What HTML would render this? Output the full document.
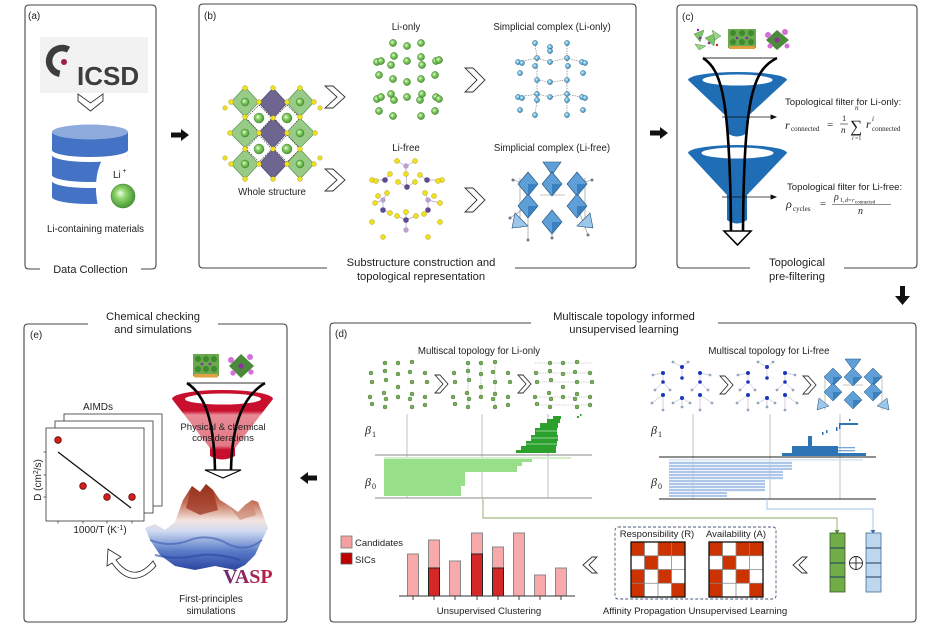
<!DOCTYPE html>
<html><head><meta charset="utf-8">
<style>
html,body{margin:0;padding:0;background:#fff;}
svg{display:block;}
text{font-family:"Liberation Sans",Arial,sans-serif;fill:#222;}
.s{font-family:"Liberation Serif","Times New Roman",serif;font-style:italic;}
.r{font-family:"Liberation Serif","Times New Roman",serif;}
</style></head><body>
<svg width="940" height="628" viewBox="0 0 940 628" xmlns="http://www.w3.org/2000/svg">
<defs>
 <radialGradient id="gb" cx="0.45" cy="0.45" r="0.6" fx="0.38" fy="0.38">
  <stop offset="0" stop-color="#f0fff0"/><stop offset="0.35" stop-color="#92d66e"/><stop offset="1" stop-color="#3c8f2c"/>
 </radialGradient>
 <radialGradient id="bb" cx="0.45" cy="0.45" r="0.6" fx="0.38" fy="0.38">
  <stop offset="0" stop-color="#e6f6ff"/><stop offset="0.45" stop-color="#7cc3e8"/><stop offset="1" stop-color="#2f7aa8"/>
 </radialGradient>
 <linearGradient id="rf" x1="0" y1="0" x2="0" y2="1">
  <stop offset="0" stop-color="#c8102e"/><stop offset="0.3" stop-color="#c8102e"/>
  <stop offset="0.36" stop-color="#e88a95"/><stop offset="0.8" stop-color="#e47a86"/>
  <stop offset="0.86" stop-color="#c8102e"/><stop offset="1" stop-color="#c8102e"/>
 </linearGradient>
 <linearGradient id="surf" x1="0" y1="0" x2="0" y2="1">
  <stop offset="0" stop-color="#8b2a1a"/><stop offset="0.22" stop-color="#c8725a"/>
  <stop offset="0.42" stop-color="#f3e4de"/><stop offset="0.55" stop-color="#cfdaf0"/>
  <stop offset="0.78" stop-color="#5a7cc8"/><stop offset="1" stop-color="#2a45a0"/>
 </linearGradient>
 <linearGradient id="vasp" x1="0" y1="0" x2="1" y2="0">
  <stop offset="0" stop-color="#6a2a70"/><stop offset="1" stop-color="#c02040"/>
 </linearGradient>
 <pattern id="stripe" patternUnits="userSpaceOnUse" width="10" height="3">
  <rect x="0" y="0" width="10" height="2.2" fill="#aec7e8"/>
 </pattern>
</defs>

<!-- ============ PANEL BOXES ============ -->
<g fill="none" stroke="#444" stroke-width="1.1">
 <path d="M40,269 L29,269 Q25,269 25,265 L25,9 Q25,5 29,5 L152,5 Q156,5 156,9 L156,265 Q156,269 152,269 L141,269"/>
 <path d="M327,268 L203,268 Q199,268 199,264 L199,8 Q199,4 203,4 L632,4 Q636,4 636,8 L636,264 Q636,268 632,268 L515,268"/>
 <path d="M750,268 L681,268 Q677,268 677,264 L677,9 Q677,5 681,5 L913,5 Q917,5 917,9 L917,264 Q917,268 913,268 L844,268"/>
 <path d="M88,324 L28,324 Q24,324 24,328 L24,618 Q24,622 28,622 L283,622 Q287,622 287,618 L287,328 Q287,324 283,324 L218,324"/>
 <path d="M531,323 L334,323 Q330,323 330,327 L330,618 Q330,622 334,622 L912,622 Q916,622 916,618 L916,327 Q916,323 912,323 L718,323"/>
</g>

<!-- titles -->
<text x="28" y="19" font-size="10">(a)</text>
<text x="204" y="19" font-size="10">(b)</text>
<text x="682" y="20" font-size="10">(c)</text>
<text x="30" y="338" font-size="10">(e)</text>
<text x="335" y="337" font-size="10">(d)</text>

<text x="90.5" y="273" font-size="11" text-anchor="middle">Data Collection</text>
<text x="421" y="266" font-size="11.2" text-anchor="middle">Substructure construction and</text>
<text x="421" y="280" font-size="11.2" text-anchor="middle">topological representation</text>
<text x="797" y="266" font-size="11.2" text-anchor="middle">Topological</text>
<text x="797" y="280" font-size="11.2" text-anchor="middle">pre-filtering</text>
<text x="153" y="320" font-size="11.2" text-anchor="middle">Chemical checking</text>
<text x="153" y="333" font-size="11.2" text-anchor="middle">and simulations</text>
<text x="624" y="320" font-size="11.2" text-anchor="middle">Multiscale topology informed</text>
<text x="624" y="333" font-size="11.2" text-anchor="middle">unsupervised learning</text>

<!-- block arrows -->
<g fill="#111">
 <polygon points="171,132.5 181,132.5 181,129 189,135 181,141 181,137.5 171,137.5"/>
 <polygon points="650,130.5 660,130.5 660,127 668,133 660,139 660,135.5 650,135.5"/>
 <polygon points="900,286 905,286 905,296 910,296 902.5,305 895,296 900,296"/>
 <polygon points="317,475.5 308,475.5 308,472 300,478 308,484 308,480.5 317,480.5"/>
</g>

<!-- ============ PANEL A ============ -->
<rect x="40" y="37" width="108" height="56" fill="#f2f2f2"/>
<path d="M68.5,49.7 A13,13 0 1 0 59.7,73.8" fill="none" stroke="#3d3d3d" stroke-width="6.5"/>
<circle cx="64" cy="62" r="3" fill="#9b1b4a"/>
<text x="77" y="85" font-size="26" font-weight="bold" style="fill:#3d3d3d">ICSD</text>
<path d="M78,94 L90.5,103 L103,94 L103,101 L90.5,111 L78,101 Z" fill="#fff" stroke="#333" stroke-width="0.9"/>
<!-- database -->
<path d="M52,132 L52,150 A38,7 0 0 0 128,150 L128,132 Z" fill="#4472c4"/>
<ellipse cx="90" cy="132" rx="38" ry="7.5" fill="#8faadc"/>
<path d="M52,155 A38,7 0 0 0 128,155 L128,175 A38,7 0 0 1 52,175 Z" fill="#4472c4"/>
<path d="M52,181 A38,7 0 0 0 128,181 L128,197 A38,7 0 0 1 52,197 Z" fill="#4472c4"/>
<path d="M131,156 L103,158 C95,172 94,192 99,210 L131,210 Z" fill="#fff"/>
<text x="113" y="178" font-size="10">Li</text>
<text x="122.5" y="173" font-size="7">+</text>
<circle cx="123" cy="196" r="12" fill="url(#gb)" stroke="#3a7a2a" stroke-width="0.5"/>
<text x="95.5" y="232" font-size="9.7" text-anchor="middle">Li-containing materials</text>

<!-- ============ PANEL B ============ -->
<g stroke-width="0.6">
 <g fill="#8cc57a" stroke="#4f8a44" fill-opacity="0.9">
  <polygon points="245,87 259,102 245,117 231,102"/>
  <polygon points="300,87 314,102 300,117 286,102"/>
  <polygon points="245,118 260,133 245,148 230,133"/>
  <polygon points="300,118 315,133 300,148 285,133"/>
  <polygon points="245,149 259,164 245,179 231,164"/>
  <polygon points="300,149 314,164 300,179 286,164"/>
 </g>
 <g fill="#6e6591" stroke="#463f6e">
  <polygon points="273,88 287,103 273,118 259,103"/>
  <polygon points="273,118 287,133 273,148 259,133"/>
  <polygon points="273,149 287,164 273,179 259,164"/>
 </g>
 <g fill="#fff" stroke="#222" stroke-dasharray="1.5,1">
  <polygon points="259,105 272,118 259,132 246,118"/>
  <polygon points="287,105 300,118 287,132 274,118"/>
  <polygon points="259,135 272,149 259,162 246,149"/>
  <polygon points="287,135 300,149 287,162 274,149"/>
 </g>
 <g fill="url(#gb)" stroke="#3a7a2a" stroke-width="0.4">
  <circle cx="259" cy="118" r="5"/><circle cx="287" cy="118" r="5"/>
  <circle cx="259" cy="149" r="5"/><circle cx="287" cy="149" r="5"/>
  <circle cx="245" cy="102" r="4"/><circle cx="300" cy="102" r="4"/>
  <circle cx="245" cy="133" r="4"/><circle cx="300" cy="133" r="4"/>
  <circle cx="245" cy="164" r="4"/><circle cx="300" cy="164" r="4"/>
 </g>
 <g fill="#f0e020" stroke="#a09000" stroke-width="0.4">
  <circle cx="245" cy="88" r="2.4"/><circle cx="273" cy="88" r="2.4"/><circle cx="300" cy="88" r="2.4"/>
  <circle cx="231" cy="102" r="2.4"/><circle cx="259" cy="102" r="2.4"/><circle cx="287" cy="102" r="2.4"/><circle cx="314" cy="102" r="2.4"/>
  <circle cx="245" cy="117" r="2.4"/><circle cx="273" cy="118" r="2.4"/><circle cx="300" cy="117" r="2.4"/>
  <circle cx="230" cy="133" r="2.4"/><circle cx="259" cy="133" r="2.4"/><circle cx="287" cy="133" r="2.4"/><circle cx="315" cy="133" r="2.4"/>
  <circle cx="245" cy="149" r="2.4"/><circle cx="273" cy="149" r="2.4"/><circle cx="300" cy="149" r="2.4"/>
  <circle cx="231" cy="164" r="2.4"/><circle cx="259" cy="164" r="2.4"/><circle cx="287" cy="164" r="2.4"/><circle cx="314" cy="164" r="2.4"/>
  <circle cx="245" cy="179" r="2.4"/><circle cx="273" cy="179" r="2.4"/><circle cx="300" cy="179" r="2.4"/>
  <circle cx="225" cy="108" r="2.2"/><circle cx="320" cy="108" r="2.2"/><circle cx="225" cy="158" r="2.2"/><circle cx="320" cy="158" r="2.2"/>
 </g>
</g>
<text x="272" y="195" font-size="9.7" text-anchor="middle">Whole structure</text>

<g fill="#fff" stroke="#333" stroke-width="0.9">
 <path d="M325,86 L333,86 L345,97 L333,108 L325,108 L337,97 Z"/>
 <path d="M325,169 L333,169 L345,180 L333,191 L325,191 L337,180 Z"/>
 <path d="M465,68 L473,68 L485,80 L473,92 L465,92 L477,80 Z"/>
 <path d="M465,188 L473,188 L485,200 L473,212 L465,212 L477,200 Z"/>
</g>

<text x="406" y="30" font-size="9.7" text-anchor="middle">Li-only</text>
<text x="406" y="151" font-size="9.7" text-anchor="middle">Li-free</text>
<text x="552" y="30" font-size="9.7" text-anchor="middle">Simplicial complex (Li-only)</text>
<text x="552" y="151" font-size="9.7" text-anchor="middle">Simplicial complex (Li-free)</text>

<g fill="url(#gb)" stroke="#3a7a2a" stroke-width="0.4">
 <circle cx="393" cy="43" r="3.6"/><circle cx="407" cy="46" r="3.6"/><circle cx="421" cy="43" r="3.6"/>
 <circle cx="377" cy="62" r="3.6"/><circle cx="381" cy="61" r="3.6"/><circle cx="394" cy="56" r="3.6"/><circle cx="407" cy="61" r="3.6"/><circle cx="421" cy="57" r="3.6"/><circle cx="436" cy="61" r="3.6"/><circle cx="439" cy="60" r="3.6"/><circle cx="391" cy="65" r="3.6"/><circle cx="422" cy="65" r="3.6"/>
 <circle cx="379" cy="75" r="3.6"/><circle cx="393" cy="79" r="3.6"/><circle cx="407" cy="82" r="3.6"/><circle cx="421" cy="79" r="3.6"/><circle cx="435" cy="75" r="3.6"/>
 <circle cx="377" cy="99" r="3.6"/><circle cx="381" cy="97" r="3.6"/><circle cx="391" cy="94" r="3.6"/><circle cx="394" cy="100" r="3.6"/><circle cx="407" cy="97" r="3.6"/><circle cx="420" cy="100" r="3.6"/><circle cx="422" cy="94" r="3.6"/><circle cx="436" cy="97" r="3.6"/><circle cx="439" cy="99" r="3.6"/>
 <circle cx="379" cy="111" r="3.6"/><circle cx="393" cy="116" r="3.6"/><circle cx="421" cy="116" r="3.6"/><circle cx="435" cy="111" r="3.6"/>
</g>

<g stroke="#b8a0c8" stroke-width="0.7" fill="none">
 <path d="M406,166 L397,161 M406,166 L415,161 M406,166 L406,174 M407,187 L398,182 M407,187 L415,182 M407,187 L406,174 M385,180 L372,180 M385,180 L390,174 M427,180 L442,180 M427,180 L420,175 M383,200 L387,193 M383,200 L375,203 M383,210 L390,213 M428,200 L425,193 M428,200 L440,203 M428,210 L424,214 M406,220 L397,216 M406,220 L416,216 M406,220 L406,212 M406,230 L406,220 M383,200 L383,210 M428,200 L428,210"/>
</g>
<g fill="#f0e020" stroke="#a09000" stroke-width="0.4">
 <circle cx="397" cy="161" r="2.5"/><circle cx="415" cy="161" r="2.5"/><circle cx="406" cy="174" r="2.5"/><circle cx="398" cy="182" r="2.5"/><circle cx="415" cy="182" r="2.5"/><circle cx="372" cy="180" r="2.5"/><circle cx="376" cy="181" r="2.5"/><circle cx="390" cy="174" r="2.5"/><circle cx="420" cy="175" r="2.5"/><circle cx="442" cy="180" r="2.5"/><circle cx="438" cy="181" r="2.5"/><circle cx="387" cy="193" r="2.5"/><circle cx="375" cy="203" r="2.5"/><circle cx="390" cy="213" r="2.5"/><circle cx="425" cy="193" r="2.5"/><circle cx="440" cy="203" r="2.5"/><circle cx="424" cy="214" r="2.5"/><circle cx="397" cy="216" r="2.5"/><circle cx="416" cy="216" r="2.5"/><circle cx="406" cy="212" r="2.5"/><circle cx="383" cy="237" r="2.5"/><circle cx="428" cy="237" r="2.5"/><circle cx="372" cy="222" r="2.5"/><circle cx="440" cy="222" r="2.5"/><circle cx="378" cy="196" r="2.5"/><circle cx="434" cy="196" r="2.5"/>
</g>
<g fill="#5d4d8d">
 <circle cx="407" cy="187" r="2.8"/><circle cx="385" cy="180" r="2.8"/><circle cx="427" cy="180" r="2.8"/><circle cx="383" cy="210" r="2.8"/><circle cx="428" cy="210" r="2.8"/><circle cx="406" cy="220" r="2.8"/>
</g>
<g fill="#b9a3cc">
 <circle cx="406" cy="166" r="2.7"/><circle cx="383" cy="200" r="2.7"/><circle cx="428" cy="200" r="2.7"/><circle cx="406" cy="230" r="2.7"/>
</g>

<g fill="none" stroke="#777" stroke-width="0.6" stroke-dasharray="1.5,1">
 <path d="M518,62 L537,58 L550,62 L567,58 L585,63 M537,58 L537,100 M567,58 L567,100 M518,97 L537,94 L550,97 L567,94 L585,98 M537,100 L535,115 M567,100 L567,115 M535,43 L537,58 M567,43 L567,58 M537,80 L550,82 L567,80"/>
</g>
<g fill="url(#bb)" stroke="#2a5f80" stroke-width="0.4">
 <circle cx="535" cy="43" r="2.6"/><circle cx="550" cy="47" r="2.6"/><circle cx="550" cy="51" r="2.6"/><circle cx="567" cy="43" r="2.6"/>
 <circle cx="518" cy="62" r="2.6"/><circle cx="522" cy="63" r="2.6"/><circle cx="537" cy="58" r="2.6"/><circle cx="550" cy="62" r="2.6"/><circle cx="567" cy="58" r="2.6"/><circle cx="582" cy="62" r="2.6"/><circle cx="585" cy="63" r="2.6"/><circle cx="535" cy="66" r="2.6"/><circle cx="568" cy="66" r="2.6"/>
 <circle cx="520" cy="73" r="2.6"/><circle cx="537" cy="80" r="2.6"/><circle cx="550" cy="82" r="2.6"/><circle cx="567" cy="80" r="2.6"/><circle cx="583" cy="73" r="2.6"/>
 <circle cx="518" cy="97" r="2.6"/><circle cx="522" cy="98" r="2.6"/><circle cx="537" cy="94" r="2.6"/><circle cx="537" cy="100" r="2.6"/><circle cx="550" cy="97" r="2.6"/><circle cx="567" cy="94" r="2.6"/><circle cx="567" cy="100" r="2.6"/><circle cx="582" cy="97" r="2.6"/><circle cx="585" cy="98" r="2.6"/>
 <circle cx="520" cy="110" r="2.6"/><circle cx="535" cy="115" r="2.6"/><circle cx="567" cy="115" r="2.6"/><circle cx="583" cy="110" r="2.6"/>
</g>

<g stroke="#888" stroke-width="0.6" fill="none">
 <path d="M513,180 L528,184 M592,180 L577,184 M510,218 L528,206 M588,235 L577,206 M528,240 L528,206 M552,238 L552,222 M520,178 L520,228 M585,178 L585,228 M540,195 L565,195"/>
</g>
<g fill="#5d9fd6" stroke="#1f4e79" stroke-width="0.6">
 <polygon points="515,213 528,226 512,228" fill="#9cc6ea"/>
 <polygon points="590,213 577,226 593,228" fill="#9cc6ea"/>
 <polygon points="543,162 561,162 552,175"/>
 <polygon points="528,172 538,184 528,196 518,184"/>
 <polygon points="552,172 562,184 552,196 542,184"/>
 <polygon points="577,172 587,184 577,196 567,184"/>
 <polygon points="528,194 538,206 528,218 518,206"/>
 <polygon points="577,194 587,206 577,218 567,206"/>
 <polygon points="552,210 562,222 552,234 542,222"/>
</g>
<g fill="#2e75b6" opacity="0.7">
 <polygon points="528,184 538,184 528,196"/><polygon points="552,184 562,184 552,196"/><polygon points="577,184 587,184 577,196"/>
 <polygon points="528,206 538,206 528,218"/><polygon points="577,206 587,206 577,218"/><polygon points="552,222 562,222 552,234"/>
</g>
<g fill="#6a7c8c">
 <circle cx="513" cy="180" r="1.5"/><circle cx="592" cy="180" r="1.5"/><circle cx="510" cy="218" r="1.5"/><circle cx="588" cy="235" r="1.5"/><circle cx="528" cy="240" r="1.5"/><circle cx="552" cy="238" r="1.5"/>
</g>

<!-- ============ PANEL C ============ -->
<g stroke-width="0.4">
 <polygon points="694,34 704,30 700,42" fill="#7cc36a" stroke="#3a7a2a"/>
 <polygon points="705,38 716,33 714,46" fill="#7cc36a" stroke="#3a7a2a"/>
 <polygon points="695,44 706,46 699,50" fill="#9bd48a" stroke="#3a7a2a"/>
 <polygon points="712,30 721,36 715,40" fill="#9bd48a" stroke="#3a7a2a"/>
 <circle cx="700" cy="38" r="1.3" fill="#8a2aa0"/><circle cx="709" cy="43" r="1.3" fill="#8a2aa0"/><circle cx="717" cy="45" r="1.2" fill="#c02020"/><circle cx="698" cy="30" r="1.2" fill="#8a2aa0"/>
 <rect x="728" y="29" width="28" height="19" fill="#6aa84f"/>
 <circle cx="733" cy="33" r="3" fill="#3f8a2c"/><circle cx="742" cy="33" r="3" fill="#3f8a2c"/><circle cx="751" cy="33" r="3" fill="#3f8a2c"/>
 <circle cx="733" cy="42" r="3" fill="#3f8a2c"/><circle cx="742" cy="42" r="3" fill="#3f8a2c"/><circle cx="751" cy="42" r="3" fill="#3f8a2c"/>
 <rect x="729" y="46" width="26" height="3" fill="#e0a040"/>
 <circle cx="737" cy="38" r="1.3" fill="#8a2aa0"/><circle cx="747" cy="38" r="1.3" fill="#8a2aa0"/>
 <polygon points="766,40 777,30 789,40 777,50" fill="#4a8a3a"/>
 <circle cx="768" cy="35" r="3" fill="#d070d8"/><circle cx="785" cy="32" r="3" fill="#d070d8"/><circle cx="777" cy="40" r="2.5" fill="#9030a0"/><circle cx="770" cy="46" r="2.5" fill="#d070d8"/><circle cx="787" cy="46" r="2.5" fill="#d070d8"/>
</g>
<path d="M688,80 L727,117 L727,133 Q737,140 747,133 L747,117 L787,80 A49.5,8 0 0 0 688,80 Z" fill="#1f6eb5"/>
<ellipse cx="737.5" cy="80" rx="35" ry="5.5" fill="#fff"/>
<path d="M688,153 L727,195 L727,220 Q737,227 747,220 L747,195 L787,153 A49.5,8 0 0 0 688,153 Z" fill="#1f6eb5"/>
<ellipse cx="737.5" cy="153" rx="36" ry="5.5" fill="#fff"/>
<line x1="703" y1="58" x2="777" y2="58" stroke="#333" stroke-width="0.9"/>
<path d="M703,58 C722,70 730,100 731,231 M777,58 C752,70 744,100 743,231" fill="none" stroke="#000" stroke-width="2.6"/>
<polygon points="724,231 751,231 737.5,245" fill="#fff" stroke="#000" stroke-width="1.6"/>
<g stroke="#111" stroke-width="0.8" fill="#111">
 <line x1="722" y1="117" x2="771" y2="117"/><polygon points="771,115 776,117 771,119"/>
 <line x1="722" y1="197" x2="771" y2="197"/><polygon points="771,195 776,197 771,199"/>
</g>
<text x="785" y="105" font-size="9.6">Topological filter for Li-only:</text>
<text x="787" y="190" font-size="9.6">Topological filter for Li-free:</text>
<text class="s" x="785" y="129" font-size="12">r</text>
<text class="r" x="791" y="131" font-size="7">connected</text>
<text class="r" x="827" y="128" font-size="11">=</text>
<text class="r" x="842" y="121" font-size="8.5">1</text>
<line x1="840" y1="124" x2="848" y2="124" stroke="#222" stroke-width="0.6"/>
<text class="s" x="841" y="133" font-size="9">n</text>
<text class="r" x="850" y="132" font-size="17">∑</text>
<text class="s" x="855" y="110" font-size="7">n</text>
<text class="s" x="852" y="140" font-size="6">i</text><text class="r" x="855" y="140" font-size="6">=1</text>
<text class="s" x="866" y="128" font-size="12">r</text>
<text class="s" x="872" y="121" font-size="7">i</text>
<text class="r" x="872" y="131" font-size="7">connected</text>
<text class="s" x="786" y="208" font-size="12">ρ</text>
<text class="r" x="793" y="211" font-size="7">cycles</text>
<text class="r" x="820" y="207" font-size="11">=</text>
<text class="s" x="834" y="200" font-size="10">ρ</text>
<text class="r" x="840" y="202" font-size="6">1,</text><text class="s" x="845" y="202" font-size="6">d</text><text class="r" x="848" y="202" font-size="6">=</text><text class="s" x="852" y="202" font-size="6">r</text>
<text class="r" x="855" y="203.5" font-size="5">connected</text>
<line x1="832" y1="204.5" x2="891" y2="204.5" stroke="#222" stroke-width="0.6"/>
<text class="s" x="858" y="214" font-size="10">n</text>

<!-- ============ PANEL E ============ -->
<text x="98" y="410" font-size="10" text-anchor="middle">AIMDs</text>
<g fill="#fff" stroke="#333" stroke-width="0.8">
 <rect x="64" y="414" width="98" height="92"/>
 <rect x="55" y="421" width="98" height="92"/>
 <rect x="46" y="428" width="98" height="93"/>
</g>
<g stroke="#333" stroke-width="0.7">
 <line x1="43.5" y1="452" x2="46" y2="452"/><line x1="43.5" y1="475" x2="46" y2="475"/><line x1="43.5" y1="497" x2="46" y2="497"/>
 <line x1="58" y1="521" x2="58" y2="523.5"/><line x1="83" y1="521" x2="83" y2="523.5"/><line x1="107" y1="521" x2="107" y2="523.5"/><line x1="132" y1="521" x2="132" y2="523.5"/>
</g>
<line x1="58" y1="452" x2="131" y2="508" stroke="#111" stroke-width="1.3"/>
<g fill="#d02020" stroke="#600" stroke-width="0.8">
 <circle cx="58" cy="440" r="3.3"/><circle cx="83" cy="486" r="3.3"/><circle cx="107" cy="497" r="3.3"/><circle cx="132" cy="497" r="3.3"/>
</g>
<text transform="translate(41,480) rotate(-90)" font-size="10" text-anchor="middle">D (cm<tspan font-size="7" dy="-3">2</tspan><tspan dy="3">/s)</tspan></text>
<text x="100" y="533" font-size="10" text-anchor="middle">1000/T (K<tspan font-size="7" dy="-3">-1</tspan><tspan dy="3">)</tspan></text>

<path d="M156,566 Q132,592 112,563 L107,566 L108,549 L121,557 L116,560 Q134,584 153,561 Z" fill="#fff" stroke="#222" stroke-width="0.8"/>

<g stroke-width="0.4">
 <rect x="193" y="354" width="26" height="22" fill="#6aa84f"/>
 <circle cx="198" cy="359" r="3" fill="#3f8a2c"/><circle cx="206" cy="359" r="3" fill="#3f8a2c"/><circle cx="214" cy="359" r="3" fill="#3f8a2c"/>
 <circle cx="198" cy="369" r="3" fill="#3f8a2c"/><circle cx="206" cy="369" r="3" fill="#3f8a2c"/><circle cx="214" cy="369" r="3" fill="#3f8a2c"/>
 <rect x="194" y="374" width="24" height="3.5" fill="#e0a040"/>
 <circle cx="202" cy="364" r="1.3" fill="#8a2aa0"/><circle cx="210" cy="364" r="1.3" fill="#8a2aa0"/>
 <polygon points="229,366 241,354 254,366 241,378" fill="#4a8a3a"/>
 <circle cx="231" cy="360" r="3" fill="#d070d8"/><circle cx="250" cy="357" r="3" fill="#d070d8"/><circle cx="241" cy="366" r="2.6" fill="#9030a0"/><circle cx="233" cy="373" r="2.6" fill="#d070d8"/><circle cx="251" cy="372" r="2.6" fill="#d070d8"/>
</g>
<path d="M172,399 L210,448 L210,456 Q222,463 235,456 L235,448 L273,399 A50.5,9 0 0 0 172,399 Z" fill="url(#rf)"/>
<ellipse cx="223" cy="399" rx="38" ry="5.5" fill="#fff"/>
<line x1="187" y1="383" x2="265" y2="383" stroke="#333" stroke-width="0.9"/>
<path d="M187,383 C205,395 214,420 215,470 M265,383 C245,395 232,420 231,470" fill="none" stroke="#000" stroke-width="2.6"/>
<polygon points="205,470 241,470 223,478" fill="#fff" stroke="#000" stroke-width="1.2"/>
<text x="223" y="430" font-size="9.6" text-anchor="middle">Physical &amp; chemical</text>
<text x="223" y="441" font-size="9.6" text-anchor="middle">considerations</text>

<polygon points="145,528 155,524 165,530 175,522 183,500 192,486 200,492 206,484 213,490 220,500 228,505 238,512 245,505 252,500 258,502 262,512 268,528 262,540 255,555 245,565 235,570 215,566 195,570 175,566 160,555 150,540" fill="url(#surf)"/>
<polygon points="192,486 200,492 206,484 213,490 218,510 200,515 186,508" fill="#9c3522" opacity="0.75"/>
<polygon points="228,505 238,512 245,505 252,500 256,515 240,520" fill="#c8826a" opacity="0.6"/>
<path d="M150,540 Q170,548 190,540 Q210,533 230,545 Q248,552 262,540" fill="none" stroke="#3a5ab0" stroke-width="2" opacity="0.6"/>
<path d="M155,555 Q175,560 195,556 Q215,552 240,560" fill="none" stroke="#2a45a0" stroke-width="2" opacity="0.6"/>
<text x="223" y="583" font-size="20" font-weight="bold" style="fill:url(#vasp)" class="r">VASP</text>
<text x="211" y="602" font-size="9.8" text-anchor="middle">First-principles</text>
<text x="211" y="614" font-size="9.8" text-anchor="middle">simulations</text>

<!-- ============ PANEL D ============ -->
<text x="479" y="354" font-size="9.7" text-anchor="middle">Multiscal topology for Li-only</text>
<text x="769" y="354" font-size="9.7" text-anchor="middle">Multiscal topology for Li-free</text>

<g fill="none" stroke="#999" stroke-width="0.6" stroke-dasharray="1.2,1">
 <path d="M468,363 L468,407 M481,363 L481,397 M495,362 L495,407"/>
 <path d="M535,363 L592,363 M536,373 L592,373 M537,382 L592,382 M535,397 L592,397 M537,405 L592,405"/>
</g>
<g fill="#7ab05a" stroke="#3a6a2a" stroke-width="0.4" id="lc1">
 <circle cx="385" cy="363" r="2"/><circle cx="398" cy="363" r="2"/><circle cx="412" cy="362" r="2"/><circle cx="371" cy="373" r="2"/><circle cx="385" cy="371" r="2"/><circle cx="398" cy="374" r="2"/><circle cx="410" cy="372" r="2"/><circle cx="425" cy="373" r="2"/><circle cx="372" cy="382" r="2"/><circle cx="386" cy="380" r="2"/><circle cx="398" cy="387" r="2"/><circle cx="412" cy="382" r="2"/><circle cx="427" cy="382" r="2"/><circle cx="370" cy="397" r="2"/><circle cx="384" cy="393" r="2"/><circle cx="398" cy="397" r="2"/><circle cx="412" cy="394" r="2"/><circle cx="425" cy="397" r="2"/><circle cx="372" cy="404" r="2"/><circle cx="385" cy="407" r="2"/><circle cx="412" cy="407" r="2"/><circle cx="425" cy="405" r="2"/><circle cx="386" cy="399" r="2"/><circle cx="410" cy="399" r="2"/>
</g>
<use href="#lc1" x="83" y="0"/>
<use href="#lc1" x="165" y="0"/>
<g fill="#fff" stroke="#333" stroke-width="0.9">
 <path d="M435,375 L440,375 L448,384 L440,393 L435,393 L443,384 Z"/>
 <path d="M518,375 L523,375 L531,384 L523,393 L518,393 L526,384 Z"/>
 <path d="M720,376 L725,376 L733,385 L725,394 L720,394 L728,385 Z"/>
 <path d="M803,376 L808,376 L816,385 L808,394 L803,394 L811,385 Z"/>
</g>

<g id="fc1">
 <g stroke="#aab" stroke-width="0.5" fill="none">
  <path d="M682,367 L673,362 M682,367 L688,362 M682,367 L682,378 M663,373 L653,375 M663,373 L663,382 M700,373 L710,375 M700,373 L700,382 M663,382 L655,390 M663,382 L670,390 M700,382 L692,390 M700,382 L708,390 M682,398 L682,407 M682,398 L673,403 M682,398 L690,403 M663,395 L652,403 M700,395 L712,403 M663,395 L663,410 M700,395 L700,410"/>
 </g>
 <g fill="#8fa8c0">
  <circle cx="673" cy="362" r="1.4"/><circle cx="688" cy="362" r="1.4"/><circle cx="653" cy="375" r="1.4"/><circle cx="710" cy="375" r="1.4"/><circle cx="655" cy="390" r="1.4"/><circle cx="670" cy="390" r="1.4"/><circle cx="692" cy="390" r="1.4"/><circle cx="708" cy="390" r="1.4"/><circle cx="682" cy="407" r="1.4"/><circle cx="673" cy="403" r="1.4"/><circle cx="690" cy="403" r="1.4"/><circle cx="652" cy="403" r="1.4"/><circle cx="712" cy="403" r="1.4"/><circle cx="663" cy="410" r="1.4"/><circle cx="700" cy="410" r="1.4"/>
 </g>
 <g fill="#1a35c0">
  <circle cx="682" cy="367" r="2"/><circle cx="682" cy="378" r="1.8"/><circle cx="663" cy="373" r="2"/><circle cx="700" cy="373" r="2"/><circle cx="663" cy="382" r="1.8"/><circle cx="700" cy="382" r="1.8"/><circle cx="663" cy="395" r="2"/><circle cx="700" cy="395" r="2"/><circle cx="682" cy="398" r="2"/>
 </g>
</g>
<use href="#fc1" x="85" y="0"/>
<g stroke="#888" stroke-width="0.5" fill="none">
 <path d="M825,375 L825,410 M882,375 L882,410 M843,385 L863,385"/>
</g>
<g fill="#5d9fd6" stroke="#1f4e79" stroke-width="0.5">
 <polygon points="819,398 829,406 817,410" fill="#9cc6ea"/>
 <polygon points="887,398 877,406 889,410" fill="#9cc6ea"/>
 <polygon points="845,359 861,359 853,370"/>
 <polygon points="833,368 842,377 833,386 824,377"/>
 <polygon points="853,368 862,377 853,386 844,377"/>
 <polygon points="873,368 882,377 873,386 864,377"/>
 <polygon points="833,383 842,392 833,401 824,392"/>
 <polygon points="873,383 882,392 873,401 864,392"/>
 <polygon points="853,391 862,400 853,409 844,400"/>
</g>
<g fill="#2e75b6" opacity="0.7">
 <polygon points="833,377 842,377 833,386"/><polygon points="853,377 862,377 853,386"/><polygon points="873,377 882,377 873,386"/>
 <polygon points="833,392 842,392 833,401"/><polygon points="873,392 882,392 873,401"/><polygon points="853,400 862,400 853,409"/>
</g>

<g stroke="#bbb" stroke-width="0.9">
 <line x1="407" y1="414" x2="407" y2="498"/><line x1="482" y1="414" x2="482" y2="498"/><line x1="548" y1="414" x2="548" y2="498"/>
</g>
<g fill="#98df8a">
 <rect x="384" y="457" width="187" height="2" fill="#d3f0ca"/>
 <rect x="384" y="459" width="148" height="3"/>
 <rect x="384" y="462" width="138" height="4"/>
 <rect x="384" y="466" width="133" height="6"/>
 <rect x="384" y="472" width="81" height="14"/>
 <rect x="384" y="486" width="77" height="10"/>
</g>
<g fill="#2ca02c">
 <rect x="553" y="416" width="8" height="3"/>
 <rect x="547" y="419" width="13" height="4"/>
 <rect x="540" y="423" width="18" height="5"/>
 <rect x="535" y="428" width="22" height="7"/>
 <rect x="531" y="435" width="27" height="6"/>
 <rect x="526" y="441" width="31" height="5"/>
 <rect x="521" y="446" width="35" height="4"/>
 <rect x="516" y="450" width="40" height="3"/>
 <rect x="577" y="416" width="2" height="2"/><rect x="580" y="414" width="1.5" height="2"/>
</g>
<g stroke="#fff" stroke-width="0.5">
 <line x1="536" y1="431" x2="557" y2="431"/><line x1="531" y1="438" x2="558" y2="438"/><line x1="526" y1="444" x2="557" y2="444"/>
</g>
<g stroke="#888" stroke-width="1">
 <line x1="375" y1="455" x2="592" y2="455"/><line x1="375" y1="498" x2="592" y2="498"/>
</g>
<text class="s" x="365" y="434" font-size="12">β</text><text class="r" x="372" y="437" font-size="8">1</text>
<text class="s" x="365" y="486" font-size="12">β</text><text class="r" x="372" y="489" font-size="8">0</text>

<g stroke="#bbb" stroke-width="0.9">
 <line x1="693" y1="414" x2="693" y2="499"/><line x1="770" y1="414" x2="770" y2="499"/><line x1="840" y1="414" x2="840" y2="499"/>
</g>
<rect x="669" y="459" width="194" height="1.5" fill="#d6e4f3"/>
<g fill="url(#stripe)">
 <rect x="669" y="461" width="123" height="9"/>
 <rect x="669" y="470" width="114" height="10"/>
 <rect x="669" y="480" width="96" height="12"/>
 <rect x="669" y="492" width="58" height="5"/>
</g>
<g fill="#2e75b6">
 <rect x="782" y="453" width="84" height="3"/>
 <rect x="792" y="446" width="46" height="7"/>
 <rect x="808" y="436" width="4" height="10"/>
 <rect x="839" y="423" width="19" height="2"/>
 <rect x="839" y="423" width="1.5" height="6"/>
 <rect x="822" y="432" width="1.5" height="3"/><rect x="826" y="430" width="1.5" height="3"/><rect x="836" y="427" width="1.5" height="4"/><rect x="849" y="419" width="1.5" height="2"/>
</g>
<g fill="#6fa8dc">
 <rect x="838" y="447" width="17" height="1.3"/><rect x="838" y="450" width="17" height="1.3"/>
</g>
<g stroke="#222" stroke-width="1">
 <line x1="659" y1="457" x2="876" y2="457"/><line x1="659" y1="499" x2="876" y2="499"/>
</g>
<text class="s" x="651" y="434" font-size="12">β</text><text class="r" x="658" y="437" font-size="8">1</text>
<text class="s" x="651" y="486" font-size="12">β</text><text class="r" x="658" y="489" font-size="8">0</text>

<path d="M483,499 L483,518 L837,518 L837,531" fill="none" stroke="#8aa860" stroke-width="0.9"/>
<polygon points="834.5,530 839.5,530 837,534" fill="#5a8a30"/>
<path d="M767,499 L767,509 L873,509 L873,531" fill="none" stroke="#9dc3e6" stroke-width="0.9"/>
<polygon points="870.5,530 875.5,530 873,534" fill="#2e75b6"/>

<rect x="830" y="533" width="15" height="59" fill="#70ad47" stroke="#3a5a2a" stroke-width="0.8"/>
<g stroke="#1f3864" stroke-width="1"><line x1="830" y1="548" x2="845" y2="548"/><line x1="830" y1="563" x2="845" y2="563"/><line x1="830" y1="577" x2="845" y2="577"/></g>
<rect x="866" y="533" width="15" height="59" fill="#bdd7ee" stroke="#4a6a9a" stroke-width="0.8"/>
<g stroke="#1f3864" stroke-width="1"><line x1="866" y1="548" x2="881" y2="548"/><line x1="866" y1="563" x2="881" y2="563"/><line x1="866" y1="577" x2="881" y2="577"/></g>
<g fill="none" stroke="#222" stroke-width="0.9">
 <circle cx="856" cy="563" r="6.5"/><line x1="849.5" y1="563" x2="862.5" y2="563"/><line x1="856" y1="556.5" x2="856" y2="569.5"/>
</g>

<g fill="#fff" stroke="#333" stroke-width="0.9">
 <path d="M597,557 L592,557 L583,565 L592,573 L597,573 L589,565 Z"/>
 <path d="M807,557 L802,557 L793,565 L802,573 L807,573 L799,565 Z"/>
</g>

<rect x="615" y="527" width="161" height="72" rx="3" fill="none" stroke="#4a5a7a" stroke-width="0.9" stroke-dasharray="3,2"/>
<text x="657" y="537" font-size="9.5" text-anchor="middle">Responsibility (R)</text>
<text x="736" y="537" font-size="9.5" text-anchor="middle">Availability (A)</text>
<g id="grid">
 <g fill="#cc3300">
  <rect x="631" y="542" width="13.5" height="13.75"/><rect x="658" y="542" width="13.5" height="13.75"/><rect x="671.5" y="542" width="13.5" height="13.75"/>
  <rect x="644.5" y="555.75" width="13.5" height="13.75"/>
  <rect x="631" y="569.5" width="13.5" height="13.75"/><rect x="658" y="569.5" width="13.5" height="13.75"/>
  <rect x="631" y="583.25" width="13.5" height="13.75"/><rect x="671.5" y="583.25" width="13.5" height="13.75"/>
 </g>
 <g stroke="#888" stroke-width="0.8">
  <line x1="644.5" y1="542" x2="644.5" y2="597"/><line x1="658" y1="542" x2="658" y2="597"/><line x1="671.5" y1="542" x2="671.5" y2="597"/>
  <line x1="631" y1="555.75" x2="685" y2="555.75"/><line x1="631" y1="569.5" x2="685" y2="569.5"/><line x1="631" y1="583.25" x2="685" y2="583.25"/>
 </g>
 <rect x="631" y="542" width="54" height="55" fill="none" stroke="#111" stroke-width="1.3"/>
</g>
<use href="#grid" x="78" y="0"/>
<text x="695" y="614" font-size="9.6" text-anchor="middle">Affinity Propagation Unsupervised Learning</text>

<rect x="341" y="536" width="11" height="12" fill="#f4a0a0" stroke="#777" stroke-width="0.8"/>
<text x="355" y="546" font-size="9.5">Candidates</text>
<rect x="341" y="553" width="11" height="11" fill="#c00000" stroke="#555" stroke-width="0.8"/>
<text x="355" y="563" font-size="9.5">SICs</text>
<g fill="#f8aaaa" stroke="#888" stroke-width="1">
 <rect x="407.5" y="554" width="11" height="42"/>
 <rect x="428.5" y="540" width="11" height="56"/>
 <rect x="449.5" y="561" width="11" height="35"/>
 <rect x="471.5" y="533" width="11" height="63"/>
 <rect x="492.5" y="547" width="11" height="49"/>
 <rect x="513.5" y="533" width="11" height="63"/>
 <rect x="534.5" y="575" width="11" height="21"/>
 <rect x="555.5" y="568" width="11" height="28"/>
</g>
<g fill="#d62728" stroke="#222" stroke-width="1">
 <rect x="428.5" y="568" width="11" height="28"/>
 <rect x="471.5" y="554" width="11" height="42"/>
 <rect x="492.5" y="568" width="11" height="28"/>
</g>
<g stroke="#333" stroke-width="0.9">
 <line x1="399" y1="596" x2="575" y2="596"/>
 <line x1="413" y1="596" x2="413" y2="600"/><line x1="434" y1="596" x2="434" y2="600"/><line x1="455" y1="596" x2="455" y2="600"/><line x1="477" y1="596" x2="477" y2="600"/><line x1="498" y1="596" x2="498" y2="600"/><line x1="519" y1="596" x2="519" y2="600"/><line x1="540" y1="596" x2="540" y2="600"/><line x1="561" y1="596" x2="561" y2="600"/>
</g>
<text x="489" y="614" font-size="9.6" text-anchor="middle">Unsupervised Clustering</text>
</svg>
</body></html>
